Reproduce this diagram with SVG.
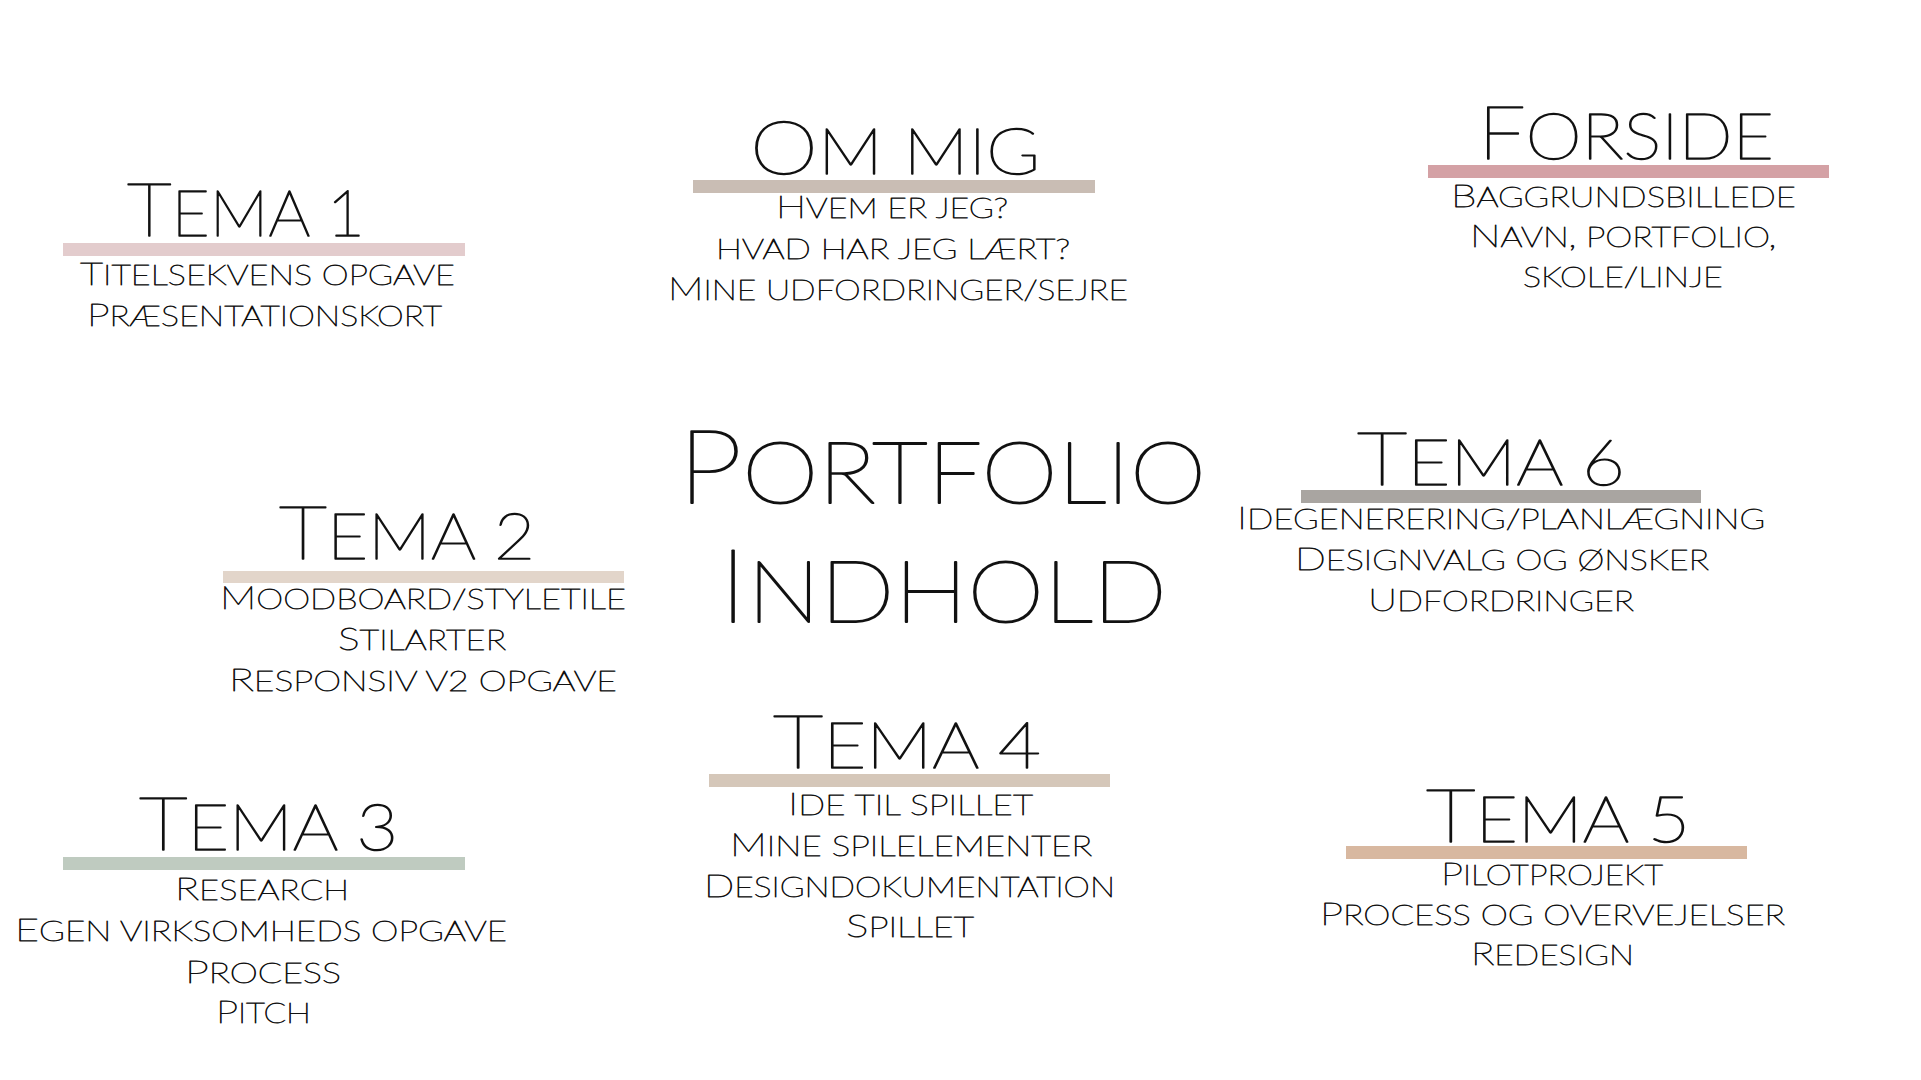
<svg xmlns="http://www.w3.org/2000/svg" width="1921" height="1080" viewBox="0 0 1921 1080">
<style>
text{font-family:"Lato","Open Sans","Liberation Sans",sans-serif;font-weight:100;fill:#111;stroke:#111;stroke-width:0.85px;stroke-linejoin:round;}
.t{font-size:75px;stroke-width:1.5px;}
.t .s{font-size:63px;}
.b{font-size:32px;}
.b .s{font-size:27px;}
.p{font-size:103px;stroke-width:1.9px;}
.p .s{font-size:87px;}
.s{text-transform:uppercase;}
</style>
<rect x="0" y="0" width="1921" height="1080" fill="#ffffff"/>

<g id="forside">
<rect x="1428" y="165" width="401" height="13" fill="#d4a1a5"/>
<text class="t" x="1478" y="159" textLength="296" lengthAdjust="spacingAndGlyphs">F<tspan class="s">orside</tspan></text>
<text class="b" x="1451" y="207" textLength="345" lengthAdjust="spacingAndGlyphs">B<tspan class="s">aggrundsbillede</tspan></text>
<text class="b" x="1470" y="247" textLength="306" lengthAdjust="spacingAndGlyphs">N<tspan class="s">avn, portfolio,</tspan></text>
<text class="b" x="1523" y="287" textLength="200" lengthAdjust="spacingAndGlyphs"><tspan class="s">skole/linje</tspan></text>
</g>

<g id="om-mig">
<rect x="693" y="180" width="402" height="13" fill="#c9bdb4"/>
<text class="t" x="750" y="174" textLength="290" lengthAdjust="spacingAndGlyphs">O<tspan class="s">m mig</tspan></text>
<text class="b" x="776" y="218" textLength="232" lengthAdjust="spacingAndGlyphs">H<tspan class="s">vem er jeg?</tspan></text>
<text class="b" x="716" y="259" textLength="354" lengthAdjust="spacingAndGlyphs"><tspan class="s">hvad har jeg lært?</tspan></text>
<text class="b" x="668" y="300" textLength="460" lengthAdjust="spacingAndGlyphs">M<tspan class="s">ine udfordringer/sejre</tspan></text>
</g>

<g id="tema-1">
<rect x="63" y="243" width="402" height="13" fill="#e3cccd"/>
<text class="t" x="127" y="236" textLength="238" lengthAdjust="spacingAndGlyphs">T<tspan class="s">ema 1</tspan></text>
<text class="b" x="80" y="285" textLength="375" lengthAdjust="spacingAndGlyphs">T<tspan class="s">itelsekvens opgave</tspan></text>
<text class="b" x="87" y="326" textLength="355" lengthAdjust="spacingAndGlyphs">P<tspan class="s">ræsentationskort</tspan></text>
</g>

<g id="tema-2">
<rect x="223" y="571" width="401" height="12" fill="#e2d5ca"/>
<text class="t" x="279" y="559" textLength="256" lengthAdjust="spacingAndGlyphs">T<tspan class="s">ema 2</tspan></text>
<text class="b" x="220" y="609" textLength="406" lengthAdjust="spacingAndGlyphs">M<tspan class="s">oodboard/styletile</tspan></text>
<text class="b" x="338" y="650" textLength="168" lengthAdjust="spacingAndGlyphs">S<tspan class="s">tilarter</tspan></text>
<text class="b" x="229" y="691" textLength="388" lengthAdjust="spacingAndGlyphs">R<tspan class="s">esponsiv v2 opgave</tspan></text>
</g>

<g id="portfolio-indhold">
<text class="p" x="678" y="503" textLength="528" lengthAdjust="spacingAndGlyphs">P<tspan class="s">ortfolio</tspan></text>
<text class="p" x="719" y="622" textLength="448" lengthAdjust="spacingAndGlyphs">I<tspan class="s">ndhold</tspan></text>
</g>

<g id="tema-6">
<rect x="1301" y="490" width="400" height="13" fill="#a9a5a1"/>
<text class="t" x="1357" y="485" textLength="268" lengthAdjust="spacingAndGlyphs">T<tspan class="s">ema 6</tspan></text>
<text class="b" x="1237" y="529" textLength="528" lengthAdjust="spacingAndGlyphs">I<tspan class="s">degenerering/planlægning</tspan></text>
<text class="b" x="1295" y="570" textLength="414" lengthAdjust="spacingAndGlyphs">D<tspan class="s">esignvalg og ønsker</tspan></text>
<text class="b" x="1368" y="611" textLength="266" lengthAdjust="spacingAndGlyphs">U<tspan class="s">dfordringer</tspan></text>
</g>

<g id="tema-3">
<rect x="63" y="857" width="402" height="13" fill="#bfcbc0"/>
<text class="t" x="139" y="850" textLength="259" lengthAdjust="spacingAndGlyphs">T<tspan class="s">ema 3</tspan></text>
<text class="b" x="175" y="900" textLength="174" lengthAdjust="spacingAndGlyphs">R<tspan class="s">esearch</tspan></text>
<text class="b" x="15" y="941" textLength="492" lengthAdjust="spacingAndGlyphs">E<tspan class="s">gen virksomheds opgave</tspan></text>
<text class="b" x="185" y="983" textLength="156" lengthAdjust="spacingAndGlyphs">P<tspan class="s">rocess</tspan></text>
<text class="b" x="216" y="1023" textLength="95" lengthAdjust="spacingAndGlyphs">P<tspan class="s">itch</tspan></text>
</g>

<g id="tema-4">
<rect x="709" y="774" width="401" height="13" fill="#d5c7b9"/>
<text class="t" x="773" y="768" textLength="268" lengthAdjust="spacingAndGlyphs">T<tspan class="s">ema 4</tspan></text>
<text class="b" x="788" y="815" textLength="245" lengthAdjust="spacingAndGlyphs">I<tspan class="s">de til spillet</tspan></text>
<text class="b" x="730" y="856" textLength="362" lengthAdjust="spacingAndGlyphs">M<tspan class="s">ine spilelementer</tspan></text>
<text class="b" x="704" y="897" textLength="411" lengthAdjust="spacingAndGlyphs">D<tspan class="s">esigndokumentation</tspan></text>
<text class="b" x="846" y="937" textLength="128" lengthAdjust="spacingAndGlyphs">S<tspan class="s">pillet</tspan></text>
</g>

<g id="tema-5">
<rect x="1346" y="846" width="401" height="13" fill="#d8b8a0"/>
<text class="t" x="1426" y="842" textLength="264" lengthAdjust="spacingAndGlyphs">T<tspan class="s">ema 5</tspan></text>
<text class="b" x="1441" y="885" textLength="222" lengthAdjust="spacingAndGlyphs">P<tspan class="s">ilotprojekt</tspan></text>
<text class="b" x="1320" y="925" textLength="465" lengthAdjust="spacingAndGlyphs">P<tspan class="s">rocess og overvejelser</tspan></text>
<text class="b" x="1471" y="965" textLength="163" lengthAdjust="spacingAndGlyphs">R<tspan class="s">edesign</tspan></text>
</g>
</svg>
